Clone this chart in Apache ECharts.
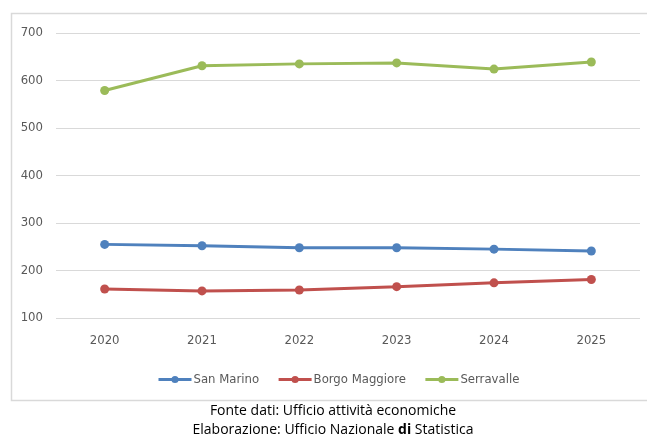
<!DOCTYPE html>
<html>
<head>
<meta charset="utf-8">
<script src="https://cdn.jsdelivr.net/npm/echarts@6/dist/echarts.min.js"></script>
<style>
  html, body { margin: 0; padding: 0; background: #ffffff; }
  #chart { width: 647px; height: 439px; }
</style>
</head>
<body>
<div id="chart"></div>
<script>
// Years on the horizontal axis
const years = ['2020', '2021', '2022', '2023', '2024', '2025'];

// Values per castello
const sanMarino = [255, 252, 248, 248, 245, 241];
const borgoMaggiore = [161, 157, 159, 166, 174, 181];
const serravalle = [579, 631, 635, 637, 624, 639];

const seriesNames = ['San Marino', 'Borgo Maggiore', 'Serravalle'];
const seriesColors = ['#4F81BD', '#C0504D', '#9BBB59'];
const seriesData = [sanMarino, borgoMaggiore, serravalle];

const fontFamily = "'Liberation Sans Narrow', 'DejaVu Sans Condensed', 'Open Sans', sans-serif";
const captionFont = "'Open Sans', 'Noto Sans', sans-serif";
const textGrey = '#595959';

const chart = echarts.init(document.getElementById('chart'));

chart.setOption({
  animation: false,
  backgroundColor: '#ffffff',
  grid: { left: 56, right: 7, top: 33, bottom: 121, containLabel: false },
  xAxis: {
    type: 'category',
    data: years,
    boundaryGap: true,
    axisLine: { show: false },
    axisTick: { show: false },
    axisLabel: { color: textGrey, fontSize: 13, fontFamily: fontFamily, margin: 16 }
  },
  yAxis: {
    type: 'value',
    min: 100,
    max: 700,
    interval: 100,
    axisLine: { show: false },
    axisTick: { show: false },
    axisLabel: { color: textGrey, fontSize: 13, fontFamily: fontFamily, margin: 13 },
    splitLine: { lineStyle: { color: '#d9d9d9', width: 1 } }
  },
  legend: {
    data: seriesNames,
    top: 368,
    left: 152,
    itemWidth: 33,
    itemHeight: 9,
    itemGap: 18,
    lineStyle: { width: 3 },
    textStyle: { color: textGrey, fontSize: 13, fontFamily: fontFamily, padding: [0, 0, 0, -3] }
  },
  series: seriesNames.map((name, i) => ({
    name: name,
    type: 'line',
    data: seriesData[i],
    symbol: 'circle',
    symbolSize: 9,
    lineStyle: { width: 3, color: seriesColors[i] },
    itemStyle: { color: seriesColors[i] }
  })),
  graphic: [
    {
      type: 'polyline',
      shape: { points: [[660, 13.5], [11.5, 13.5], [11.5, 400.5], [660, 400.5]] },
      style: { stroke: '#d9d9d9', lineWidth: 1.5, fill: null },
      silent: true
    },
    {
      type: 'text',
      x: 333,
      y: 404,
      style: {
        text: 'Fonte dati: Ufficio attività economiche',
        fill: '#000000',
        align: 'center',
        font: "14px " + captionFont
      }
    },
    {
      type: 'text',
      x: 333,
      y: 423,
      style: {
        text: '{n|Elaborazione: Ufficio Nazionale }{b|di}{n| Statistica}',
        align: 'center',
        rich: {
          n: { fill: '#000000', fontSize: 14, fontFamily: captionFont },
          b: { fill: '#000000', fontSize: 14, fontWeight: 'bold', fontFamily: captionFont }
        }
      }
    }
  ]
});
</script>
</body>
</html>
